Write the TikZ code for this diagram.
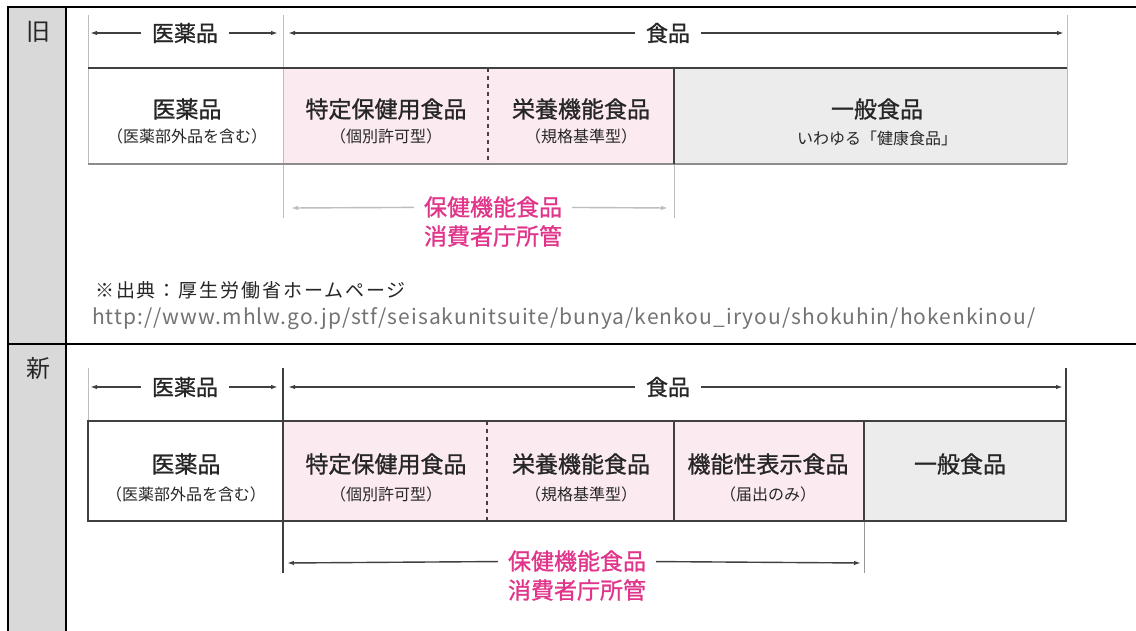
\documentclass[tikz,border=0pt]{standalone}
\usepackage{fontspec}
\setmainfont{Noto Sans CJK JP}
\usetikzlibrary{arrows.meta}
\definecolor{labgray}{HTML}{D9D9D9}
\definecolor{pinkfill}{HTML}{FCEAF1}
\definecolor{grayfill}{HTML}{ECECEC}
\definecolor{pinktext}{HTML}{E0358A}
\definecolor{darkline}{HTML}{404040}
\definecolor{lightline}{HTML}{BDBDBD}
\definecolor{txt}{HTML}{262626}
\begin{document}
\begin{tikzpicture}[x=1pt,y=-1pt,
  frame/.style={line width=2.4pt,black},
  tline/.style={line width=1.8pt,darkline},
  tlight/.style={line width=1.2pt,lightline},
  guide/.style={line width=1pt,lightline},
  arr/.style={line width=1.4pt,darkline,-{Latex[length=7pt,width=4.5pt]}},
  arrlight/.style={line width=1.4pt,lightline,-{Latex[length=7pt,width=4.5pt]}},
  rowlab/.style={font=\fontsize{24}{28}\selectfont,text=txt},
  title/.style={font=\fontsize{23}{27}\selectfont\addfontfeature{FakeBold=1},text=txt,inner sep=0pt},
  sub/.style={font=\fontsize{16}{19}\selectfont,text=txt,inner sep=0pt},
  arrlab/.style={font=\fontsize{22}{26}\selectfont\addfontfeature{FakeBold=1},text=txt,inner xsep=11pt,inner ysep=0pt},
  pinklab/.style={font=\fontsize{23}{27}\selectfont\addfontfeature{FakeBold=1},text=pinktext,inner xsep=10pt,inner ysep=0pt},
  note/.style={font=\fontsize{19}{23}\selectfont\addfontfeature{LetterSpace=10},text=txt,anchor=west,inner sep=0pt},
  url/.style={font=\fontsize{21}{24}\selectfont\addfontfeature{LetterSpace=5},text=black!55,anchor=west,inner sep=0pt}
]
\useasboundingbox (0,0) rectangle (1136,631);
\fill[white] (0,0) rectangle (1136,631);
% ---- outer frame ----
\fill[labgray] (8,7) rectangle (66,631);
\draw[frame] (8,631) -- (8,7) -- (1136,7);
\draw[frame] (66,7) -- (66,631);
\draw[frame] (8,344) -- (1136,344);
\node[rowlab] (old) at (38,32) {旧};
\node[rowlab] (new) at (38,368) {新};

% ================= OLD =================
\fill[pinkfill] (283,68) rectangle (674,164);
\fill[grayfill] (674,68) rectangle (1067,164);
\draw[guide] (88,15) -- (88,164);
\draw[guide] (283,15) -- (283,218);
\draw[guide] (674,164) -- (674,218);
\draw[guide] (1067,15) -- (1067,164);
\draw[tline] (88,68) -- (1067,68);
\draw[tlight,black!45] (88,164) -- (1067,164);
\draw[tline] (674,68) -- (674,164);
\draw[tline,dash pattern=on 4pt off 4pt] (488,68) -- (488,164);
% top arrows
\coordinate (oa1) at (90,33);
\coordinate (oa2) at (278,33);
\coordinate (oa3) at (288,33);
\coordinate (oa4) at (1064,33);
\node[arrlab] (oiy) at (185,33) {医薬品};
\node[arrlab] (osh) at (668,33) {食品};
\draw[arr] (oiy) -- (oa1);
\draw[arr] (oiy) -- (oa2);
\draw[arr] (osh) -- (oa3);
\draw[arr] (osh) -- (oa4);
% cells
\node[title] (o1t) at (187,109) {医薬品};
\node[sub] (o1s) at (187,136) {（医薬部外品を含む）};
\node[title] (o2t) at (386,109) {特定保健用食品};
\node[sub] (o2s) at (386,136) {（個別許可型）};
\node[title] (o3t) at (581,109) {栄養機能食品};
\node[sub] (o3s) at (581,136) {（規格基準型）};
\node[title] (o4t) at (877,109) {一般食品};
\node[sub] (o4s) at (877,138) {いわゆる「健康食品」};
% pink
\coordinate (op1) at (291,208);
\coordinate (op2) at (668,208);
\node[pinklab] (opk) at (493,207) {保健機能食品};
\node[pinklab] (opk2) at (493,236) {消費者庁所管};
\draw[arrlight] (opk) -- (op1);
\draw[arrlight] (opk) -- (op2);
% note
\node[note] (src) at (95,290) {※出典：厚生労働省ホームページ};
\node[url] (link) at (92,319) {http://www.mhlw.go.jp/stf/seisakunitsuite/bunya/kenkou\_iryou/shokuhin/hokenkinou/};

% ================= NEW =================
\fill[pinkfill] (283,421) rectangle (864,521);
\fill[grayfill] (864,421) rectangle (1066,521);
\draw[guide] (88,368) -- (88,421);
\draw[tline] (283,368) -- (283,573);
\draw[tline] (1066,368) -- (1066,421);
\draw[guide,black!40] (864,521) -- (864,573);
\draw[tline] (88,421) rectangle (1066,521);
\draw[tline] (674,421) -- (674,521);
\draw[tline] (864,421) -- (864,521);
\draw[tline,dash pattern=on 4pt off 4pt] (487,421) -- (487,521);
% top arrows
\coordinate (na1) at (90,387);
\coordinate (na2) at (278,387);
\coordinate (na3) at (288,387);
\coordinate (na4) at (1063,387);
\node[arrlab] (niy) at (185,387) {医薬品};
\node[arrlab] (nsh) at (668,387) {食品};
\draw[arr] (niy) -- (na1);
\draw[arr] (niy) -- (na2);
\draw[arr] (nsh) -- (na3);
\draw[arr] (nsh) -- (na4);
% cells
\node[title] (n1t) at (186,464) {医薬品};
\node[sub] (n1s) at (186,494) {（医薬部外品を含む）};
\node[title] (n2t) at (386,464) {特定保健用食品};
\node[sub] (n2s) at (386,494) {（個別許可型）};
\node[title] (n3t) at (581,464) {栄養機能食品};
\node[sub] (n3s) at (581,494) {（規格基準型）};
\node[title] (n4t) at (768,464) {機能性表示食品};
\node[sub] (n4s) at (768,494) {（届出のみ）};
\node[title] (n5t) at (960,464) {一般食品};
% pink
\coordinate (np1) at (287,563);
\coordinate (np2) at (861,563);
\node[pinklab] (npk) at (577,561) {保健機能食品};
\node[pinklab] (npk2) at (577,590) {消費者庁所管};
\draw[arr] (npk) -- (np1);
\draw[arr] (npk) -- (np2);
\end{tikzpicture}
\end{document}
